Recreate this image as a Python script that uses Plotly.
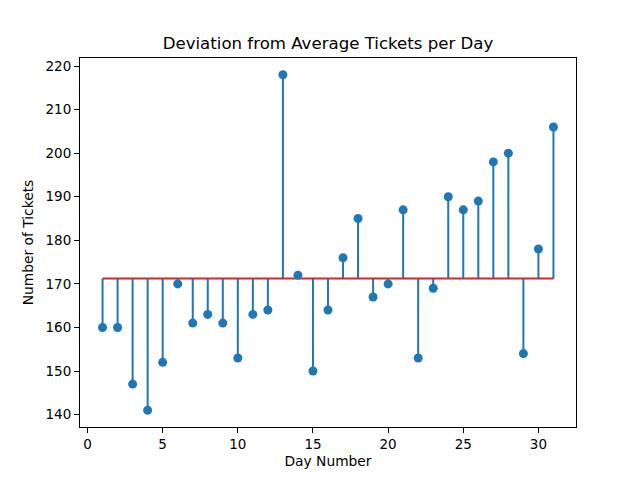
import plotly.graph_objects as go
import numpy as np

days = list(range(1, 32))
tickets = [160, 160, 147, 141, 152, 170, 161, 163, 161, 153, 163, 164, 218, 172, 150,
           164, 176, 185, 167, 170, 187, 153, 169, 190, 187, 189, 198, 200, 154, 178, 206]
baseline = float(np.mean(tickets))

stem_x, stem_y = [], []
for d, t in zip(days, tickets):
    stem_x += [d, d, None]
    stem_y += [baseline, t, None]

fig = go.Figure()
fig.add_trace(go.Scatter(x=stem_x, y=stem_y, mode="lines",
                         line=dict(color="#1f77b4", width=2), showlegend=False, hoverinfo="skip"))
fig.add_trace(go.Scatter(x=[days[0], days[-1]], y=[baseline, baseline], mode="lines",
                         line=dict(color="#d62728", width=2), showlegend=False))
fig.add_trace(go.Scatter(x=days, y=tickets, mode="markers",
                         marker=dict(color="#1f77b4", size=9), showlegend=False))

font = "DejaVu Sans"
fig.update_layout(
    width=640, height=480,
    margin=dict(l=72, r=72, t=50, b=61),
    paper_bgcolor="white", plot_bgcolor="white",
    font=dict(family=font, size=13.5, color="black"),
    title=dict(text="Deviation from Average Tickets per Day", x=(72 + 568) / 2 / 640, xanchor="center",
               y=1 - 35/480, yanchor="middle", font=dict(size=16.6)),
)
fig.update_xaxes(range=[-0.5, 32.5], tickvals=[0, 5, 10, 15, 20, 25, 30],
                 showgrid=False, zeroline=False, showline=True, linecolor="black", linewidth=1,
                 mirror=True, ticks="outside", ticklen=5, tickcolor="black",
                 title=dict(text="Day Number", font=dict(size=13.8), standoff=5))
fig.update_yaxes(range=[137.15, 221.85], tickvals=list(range(140, 221, 10)),
                 showgrid=False, zeroline=False, showline=True, linecolor="black", linewidth=1,
                 mirror=True, ticks="outside", ticklen=5, tickcolor="black",
                 title=dict(text="Number of Tickets", font=dict(size=13.8), standoff=8))
fig.write_html("out.html")
